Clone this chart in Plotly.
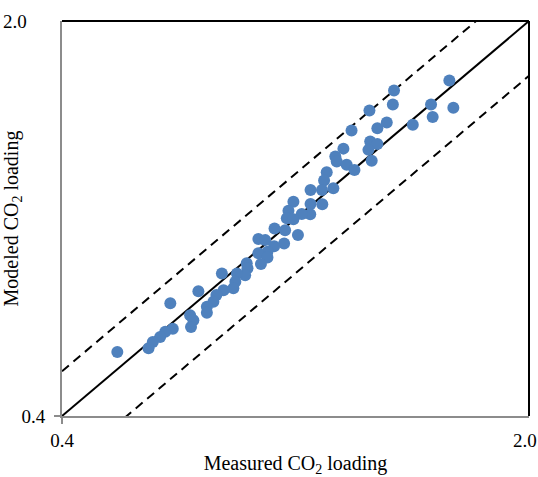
import plotly.graph_objects as go
import math

measured = [1.52, 1.256, 1.154, 1.251, 1.427, 1.541, 1.435, 1.34, 1.225, 1.186, 1.085, 1.157, 1.186, 1.15, 1.163, 1.055, 1.026, 1.031, 1.067, 1.096, 0.996, 0.987, 1.019, 0.98, 0.942, 0.981, 0.942, 0.941, 0.888, 0.873, 0.914, 0.868, 0.888, 0.863, 0.902, 0.832, 0.787, 0.806, 0.86, 0.831, 0.812, 0.787, 0.812, 0.794, 0.756, 0.758, 0.752, 0.731, 0.694, 0.727, 0.722, 0.698, 0.681, 0.674, 0.659, 0.659, 0.64, 0.581, 0.622, 0.629, 0.624, 0.586, 0.571, 0.561, 0.547, 0.539, 0.484]
modeled = [1.569, 1.507, 1.389, 1.423, 1.423, 1.404, 1.352, 1.31, 1.322, 1.292, 1.28, 1.224, 1.212, 1.183, 1.132, 1.189, 1.151, 1.128, 1.113, 1.09, 1.08, 1.044, 1.012, 1.005, 1.005, 0.948, 0.949, 0.91, 0.958, 0.923, 0.911, 0.895, 0.892, 0.853, 0.836, 0.859, 0.823, 0.819, 0.808, 0.799, 0.781, 0.776, 0.763, 0.743, 0.745, 0.73, 0.71, 0.715, 0.715, 0.691, 0.673, 0.668, 0.655, 0.637, 0.624, 0.609, 0.665, 0.633, 0.603, 0.591, 0.575, 0.571, 0.564, 0.552, 0.541, 0.527, 0.519]

axis_min = 0.4
axis_max = 2.0
parity_ratio = 1.0
upper_ratio = 1.2
lower_ratio = 0.8
tick_labels = ["0.4", "2.0"]

FONT = "Liberation Serif, Times New Roman, serif"
BLUE = "#4F81BD"
GREY = "#8C8C8C"

line_x = [axis_min, axis_max * 1.5]

fig = go.Figure()
fig.add_trace(go.Scatter(x=line_x, y=[v * parity_ratio for v in line_x], mode="lines",
                         line=dict(color="black", width=2), showlegend=False, hoverinfo="skip"))
fig.add_trace(go.Scatter(x=line_x, y=[v * upper_ratio for v in line_x], mode="lines",
                         line=dict(color="black", width=2, dash="9px,6px"), showlegend=False, hoverinfo="skip"))
fig.add_trace(go.Scatter(x=[axis_min * 0.5, axis_max], y=[v * lower_ratio for v in [axis_min * 0.5, axis_max]], mode="lines",
                         line=dict(color="black", width=2, dash="9px,6px"), showlegend=False, hoverinfo="skip"))
fig.add_trace(go.Scatter(x=measured, y=modeled, mode="markers",
                         marker=dict(color=BLUE, size=12, line=dict(width=0)), showlegend=False))

rng = [math.log10(axis_min), math.log10(axis_max)]
axis_common = dict(type="log", range=rng, showgrid=False, zeroline=False, automargin=False,
                   showline=True, linecolor=GREY, linewidth=2,
                   ticks="outside", ticklen=6, tickcolor=GREY, tickwidth=1.5,
                   tickvals=[axis_min], ticktext=[tick_labels[0]],
                   tickfont=dict(family=FONT, size=19, color="black"))

fig.update_layout(
    width=538, height=477,
    margin=dict(l=62, r=9, t=21, b=61),
    paper_bgcolor="white", plot_bgcolor="white",
    xaxis=dict(**axis_common,
               title=dict(text="Measured CO<sub>2</sub> loading", font=dict(family=FONT, size=20, color="black"), standoff=23)),
    yaxis=dict(**axis_common, ticklabelstandoff=5,
               title=dict(text="Modeled CO<sub>2</sub> loading", font=dict(family=FONT, size=20, color="black"), standoff=15)),
    shapes=[
        dict(type="line", xref="paper", yref="paper", x0=0, x1=1, y0=1, y1=1, line=dict(color="black", width=2)),
        dict(type="line", xref="paper", yref="paper", x0=1, x1=1, y0=0, y1=1, line=dict(color="black", width=2)),
    ],
    annotations=[
        dict(text=tick_labels[1], xref="paper", yref="paper", x=1, y=0, xanchor="center", yanchor="top",
             yshift=-12, xshift=-4, showarrow=False, font=dict(family=FONT, size=19, color="black")),
        dict(text=tick_labels[1], xref="paper", yref="paper", x=0, y=1, xanchor="right", yanchor="middle",
             xshift=-33, showarrow=False, font=dict(family=FONT, size=19, color="black")),
    ],
)

fig.write_html("out.html")
